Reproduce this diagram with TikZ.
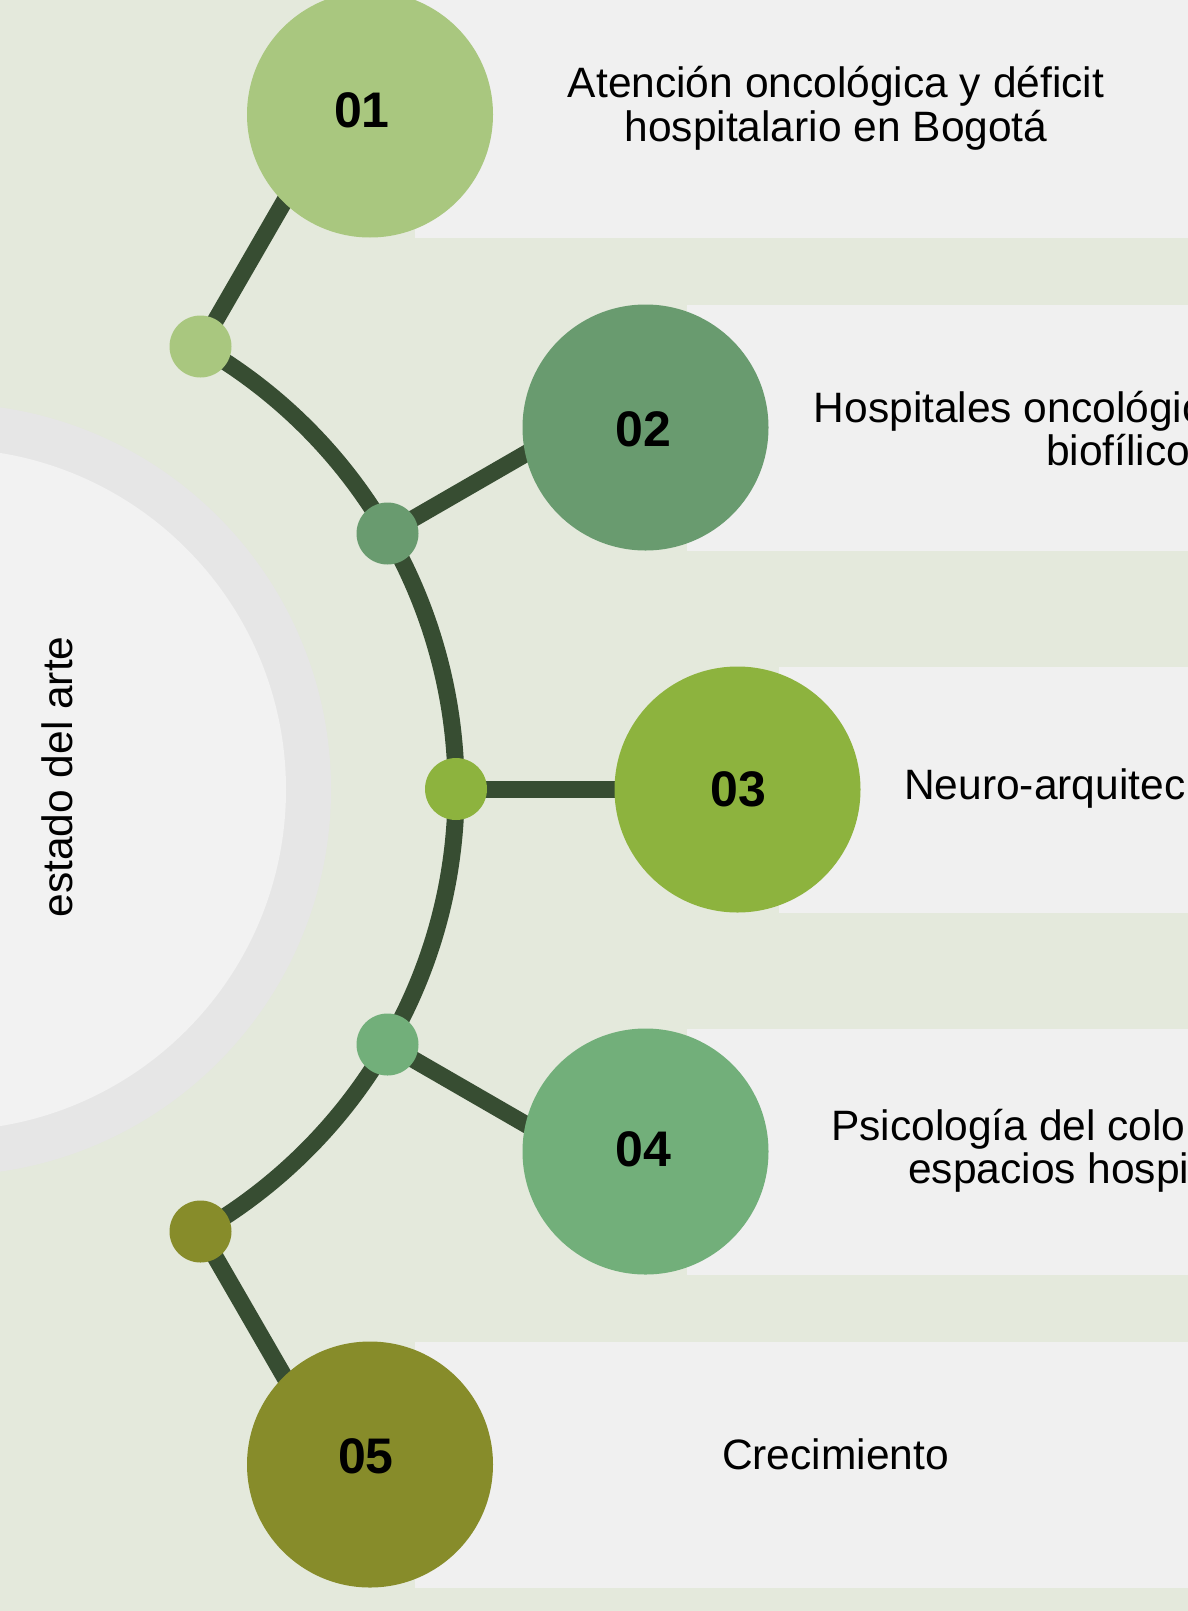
\documentclass[tikz,border=0pt]{standalone}
\usepackage{fontspec}
\setmainfont{Liberation Sans}
\definecolor{bggreen}{HTML}{E4E9DC}
\definecolor{bandgray}{HTML}{F0F0F0}
\definecolor{ringgray}{HTML}{E6E6E6}
\definecolor{innergray}{HTML}{F2F2F2}
\definecolor{linegreen}{HTML}{374D32}
\definecolor{cA}{HTML}{A9C77F}
\definecolor{cB}{HTML}{699B6F}
\definecolor{cC}{HTML}{8DB33E}
\definecolor{cD}{HTML}{72AF7A}
\definecolor{cE}{HTML}{878C2A}
\pgfdeclarelayer{back}
\pgfdeclarelayer{links}
\pgfsetlayers{back,links,main}
\tikzset{
  bigcirc/.style={circle, minimum size=246pt, inner sep=0pt, draw=none},
  joint/.style={circle, minimum size=62pt, inner sep=0pt, draw=none},
  numtxt/.style={font=\fontsize{50}{50}\selectfont\bfseries, inner sep=0pt, text=black},
  lbl/.style={font=\fontsize{42.5}{44}\selectfont, inner sep=0pt, text=black},
  conn/.style={draw=linegreen, line width=17pt},
}
\begin{document}
\begin{tikzpicture}[x=1pt,y=-1pt]
\useasboundingbox (0,0) rectangle (1188,1611);
\clip (0,0) rectangle (1188,1611);

% joints on the arc (centre (-55,789), radius 511)
\node[joint, fill=cA] (d1) at (200.5,346.5) {};
\node[joint, fill=cB] (d2) at (387.5,533.5) {};
\node[joint, fill=cC] (d3) at (456,789) {};
\node[joint, fill=cD] (d4) at (387.5,1044.5) {};
\node[joint, fill=cE] (d5) at (200.5,1231.5) {};

% radial ends of the connectors (inside the big circles)
\path (d1.center) ++(-60:250) coordinate (e1);
\path (d2.center) ++(-30:200) coordinate (e2);
\path (d3.center) ++(0:200) coordinate (e3);
\path (d4.center) ++(30:200) coordinate (e4);
\path (d5.center) ++(60:250) coordinate (e5);

% big circles
\node[bigcirc, fill=cA] (c1) at (370,114.5) {};
\node[bigcirc, fill=cB] (c2) at (645.5,427.5) {};
\node[bigcirc, fill=cC] (c3) at (737.5,789.5) {};
\node[bigcirc, fill=cD] (c4) at (645.5,1151.5) {};
\node[bigcirc, fill=cE] (c5) at (370,1464.5) {};

% numbers
\node[numtxt] (n1) at (362,110) {01};
\node[numtxt] (n2) at (643,429) {02};
\node[numtxt] (n3) at (738,789.5) {03};
\node[numtxt] (n4) at (643,1149.5) {04};
\node[numtxt] (n5) at (366,1456) {05};

% labels
\node[lbl, anchor=base] (t1a) at (836,97) {Atención oncológica y déficit};
\node[lbl, anchor=base] (t1b) at (836,141) {hospitalario en Bogotá};
\node[lbl, anchor=base west] (t2a) at (813.6,422) {Hospitales oncológic};
\node[lbl, anchor=base west] (t2b) at (1046,465) {biofílico};
\node[lbl, anchor=base west] (t3) at (904,799) {Neuro-arquitec};
\node[lbl, anchor=base west] (t4a) at (831,1140) {Psicología del colo};
\node[lbl, anchor=base west] (t4b) at (908,1183) {espacios hospi};
\node[lbl, anchor=base] (t5) at (835.5,1469) {Crecimiento};
\node[lbl, rotate=90, anchor=base] (side) at (72,777) {estado del arte};

\begin{pgfonlayer}{back}
  \fill[bggreen] (0,0) rectangle (1188,1611);
  \fill[bandgray] (415,-10) rectangle (1188,237.5);
  \fill[bandgray] (687,304.5) rectangle (1188,550.5);
  \fill[bandgray] (779,666.5) rectangle (1188,912.5);
  \fill[bandgray] (687,1028.5) rectangle (1188,1274.5);
  \fill[bandgray] (415,1341.5) rectangle (1188,1587.5);
  \fill[ringgray] (-55,789.5) circle[radius=386];
  \fill[innergray] (-55,789.5) circle[radius=341];
\end{pgfonlayer}

\begin{pgfonlayer}{links}
  \draw[conn] (d1.center) arc[start angle=-60, end angle=60, radius=511];
  \draw[conn] (d1.center) -- (e1);
  \draw[conn] (d2.center) -- (e2);
  \draw[conn] (d3.center) -- (e3);
  \draw[conn] (d4.center) -- (e4);
  \draw[conn] (d5.center) -- (e5);
\end{pgfonlayer}
\end{tikzpicture}
\end{document}
